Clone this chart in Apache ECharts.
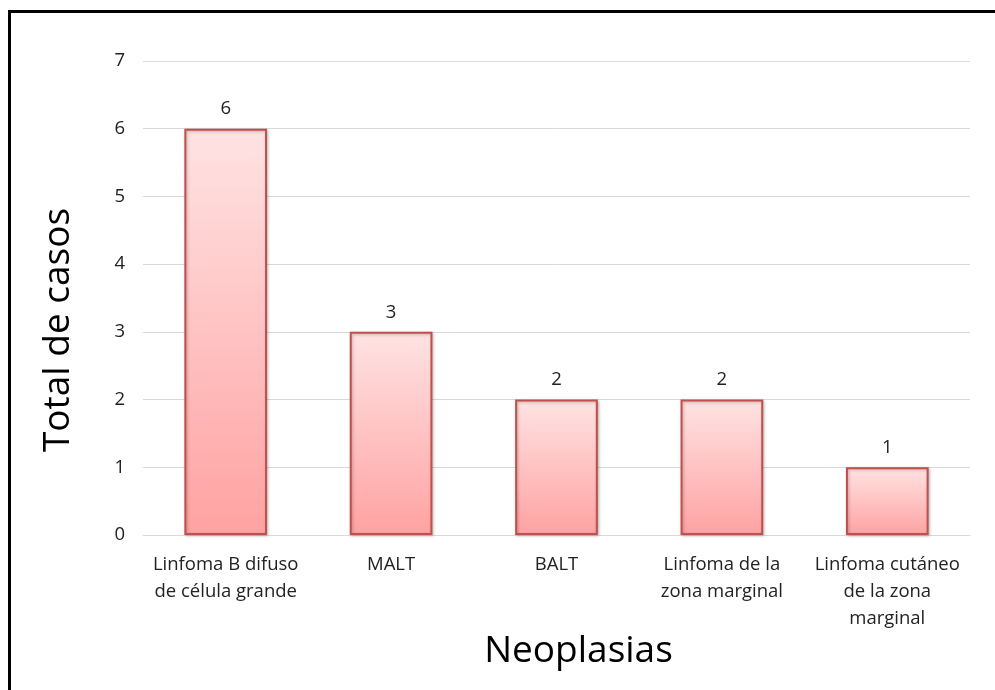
<!DOCTYPE html>
<html><head><meta charset="utf-8">
<script src="https://cdn.jsdelivr.net/npm/echarts@6/dist/echarts.min.js"></script>
<style>html,body{margin:0;padding:0;background:#fff}#c{width:995px;height:690px}</style>
</head><body><div id="c"></div>
<script>
var categories = ["Linfoma B difuso\nde célula grande", "MALT", "BALT", "Linfoma de la\nzona marginal", "Linfoma cutáneo\nde la zona\nmarginal"];
var values = [6, 3, 2, 2, 1];
var yTicks = [0, 1, 2, 3, 4, 5, 6, 7];
var yTitle = "Total de casos";
var xTitle = "Neoplasias";

var FONT = "'Open Sans', 'Liberation Sans', sans-serif";
var chart = echarts.init(document.getElementById('c'));
chart.setOption({
  animation: false,
  backgroundColor: '#fff',
  graphic: [
    {type: 'line', shape: {x1: 9, y1: 11.5, x2: 995, y2: 11.5}, style: {stroke: '#000', lineWidth: 3}},
    {type: 'line', shape: {x1: 9.5, y1: 10, x2: 9.5, y2: 690}, style: {stroke: '#000', lineWidth: 3}}
  ],
  grid: {left: 143, right: 25, top: 61, bottom: 155, containLabel: false},
  xAxis: {
    type: 'category', data: categories,
    name: xTitle, nameLocation: 'middle', nameGap: 98, nameMoveOverlap: false,
    nameTextStyle: {fontFamily: FONT, fontSize: 37, color: '#000', padding: [0, 0, 0, 44]},
    axisLine: {show: true, lineStyle: {color: '#d9d9d9', width: 1}},
    axisTick: {show: false},
    axisLabel: {fontFamily: FONT, fontSize: 18.5, color: '#222', lineHeight: 27, margin: 16, interval: 0}
  },
  yAxis: {
    type: 'value', min: 0, max: yTicks[yTicks.length - 1], interval: 1,
    name: yTitle, nameLocation: 'middle', nameGap: 66, nameRotate: 90, nameMoveOverlap: false,
    nameTextStyle: {fontFamily: FONT, fontSize: 37, color: '#000', padding: [0, 64, 0, 0]},
    axisLine: {show: false}, axisTick: {show: false},
    axisLabel: {fontFamily: FONT, fontSize: 18.5, color: '#222', margin: 18},
    splitLine: {lineStyle: {color: '#d9d9d9', width: 1}}
  },
  series: [{
    type: 'bar', data: values, barWidth: '50%',
    itemStyle: {
      color: new echarts.graphic.LinearGradient(0, 0, 0, 1, [
        {offset: 0, color: '#ffe3e3'}, {offset: 1, color: '#ffa2a2'}
      ]),
      borderColor: '#c0504d', borderWidth: 2,
      shadowColor: 'rgba(0,0,0,0.25)', shadowBlur: 3, shadowOffsetX: 1, shadowOffsetY: 1
    },
    label: {show: true, position: 'top', distance: 10, fontFamily: FONT, fontSize: 18.5, color: '#222'}
  }]
});
</script></body></html>
